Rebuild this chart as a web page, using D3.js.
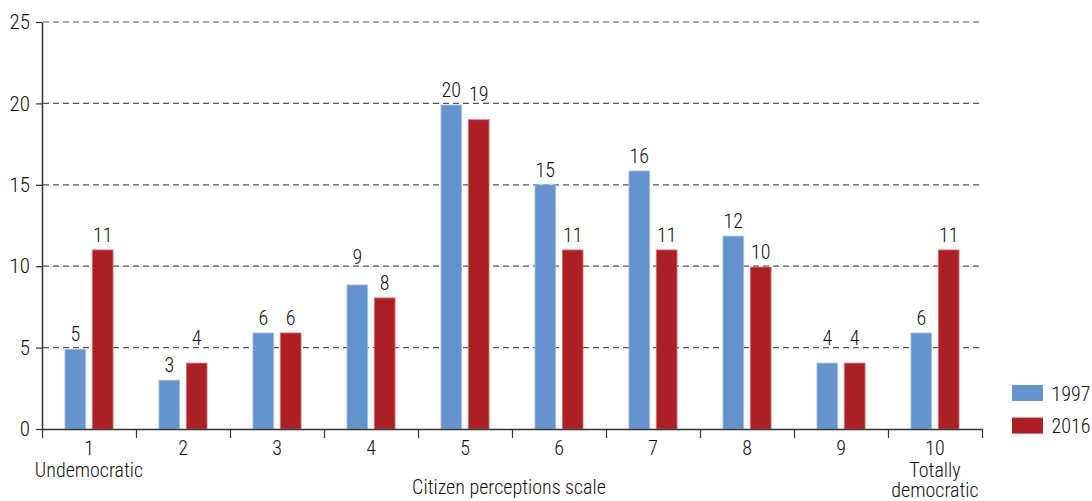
<!DOCTYPE html>
<html>
<head>
<meta charset="utf-8">
<script src="https://cdn.jsdelivr.net/npm/d3@7"></script>
<style>
  html, body { margin: 0; padding: 0; background: #fff; }
  svg { display: block; }
  text { font-family: "Roboto Condensed", "Liberation Sans Narrow", "Arial Narrow", sans-serif; font-weight: 300; fill: #111; }
</style>
</head>
<body>
<svg id="chart" width="1092" height="501"></svg>
<script>
// ---- data ----
const categories = ["1", "2", "3", "4", "5", "6", "7", "8", "9", "10"];
const categoryNotes = ["Undemocratic", "", "", "", "", "", "", "", "", "Totally\ndemocratic"];
const seriesNames = ["1997", "2016"];
const values1997 = [4.9, 3.0, 5.9, 8.85, 19.9, 15.0, 15.85, 11.85, 4.05, 5.9];
const values2016 = [11.0, 4.05, 5.9, 8.05, 19.0, 11.0, 11.0, 9.95, 4.05, 11.0];
const yTicks = [0, 5, 10, 15, 20, 25];
const axisTitle = "Citizen perceptions scale";
const colors = ["#6593cd", "#ab1f25"];
const strokes = ["#a8c3e6", "#d9787c"];

// ---- layout ----
const svg = d3.select("#chart");
const mLeft = 42, mRight = 982, mTop = 22, mBottom = 429;

const x0 = d3.scaleBand().domain(categories).range([mLeft, mRight]).padding(0);
const x1 = d3.scaleBand().domain(seriesNames).range([0, x0.bandwidth()])
  .paddingInner(0.24).paddingOuter(0.84);
const y = d3.scaleLinear().domain([0, 25]).range([mBottom, mTop]);
const xEdge = d3.scaleLinear().domain([0, categories.length]).range([mLeft, mRight]);

const fs = 20;

// gridlines
svg.append("g").selectAll("line")
  .data(yTicks.filter(d => d > 0))
  .join("line")
  .attr("x1", mLeft + 1).attr("x2", mRight)
  .attr("y1", d => y(d)).attr("y2", d => y(d))
  .attr("stroke", "#555").attr("stroke-width", 1.2)
  .attr("stroke-dasharray", "6,4");

// bars
const rows = categories.map((c, i) => ({ cat: c, vals: [values1997[i], values2016[i]] }));
const groups = svg.append("g").selectAll("g")
  .data(rows).join("g")
  .attr("transform", d => `translate(${x0(d.cat)},0)`);

groups.selectAll("rect")
  .data(d => d.vals.map((v, k) => ({ s: seriesNames[k], v, k })))
  .join("rect")
  .attr("x", d => x1(d.s))
  .attr("width", x1.bandwidth())
  .attr("y", d => y(d.v))
  .attr("height", d => mBottom - y(d.v))
  .attr("fill", d => colors[d.k])
  .attr("stroke", d => strokes[d.k])
  .attr("stroke-width", 0.8);

// value labels, nudged above a gridline when they would overlap it
function labelBaseline(v) {
  let b = y(v) - 8;
  for (const t of yTicks) {
    const g = y(t);
    if (g > b - 14 && g < b + 1) b = g - 2.5;
  }
  return b;
}
groups.selectAll("text")
  .data(d => d.vals.map((v, k) => ({ s: seriesNames[k], v, k })))
  .join("text")
  .attr("x", d => x1(d.s) + x1.bandwidth() / 2)
  .attr("y", d => labelBaseline(d.v))
  .attr("text-anchor", "middle")
  .attr("font-size", fs)
  .text(d => d3.format(".0f")(d.v));

// y axis
const yAxis = svg.append("g")
  .attr("transform", `translate(${mLeft},0)`)
  .call(d3.axisLeft(y).tickValues(yTicks).tickSize(6).tickSizeOuter(0).tickPadding(6));
yAxis.select(".domain").attr("stroke", "#333").attr("stroke-width", 1.5);
yAxis.selectAll(".tick line").attr("stroke", "#333").attr("stroke-width", 1.2);
yAxis.selectAll(".tick text").attr("font-size", 21).attr("font-family", null).attr("fill", "#111");

// x axis: edges with ticks
const xAxis = svg.append("g")
  .attr("transform", `translate(0,${mBottom})`)
  .call(d3.axisBottom(xEdge).tickValues(d3.range(categories.length + 1)).tickFormat("").tickSize(9).tickSizeOuter(0));
xAxis.select(".domain").attr("stroke", "#333").attr("stroke-width", 1.5);
xAxis.selectAll(".tick line").attr("stroke", "#333").attr("stroke-width", 1.2);

// category labels
const xLab = svg.append("g")
  .attr("transform", `translate(0,${mBottom})`)
  .call(d3.axisBottom(x0).tickSize(0).tickPadding(12));
xLab.select(".domain").remove();
xLab.selectAll(".tick text").attr("font-size", fs).attr("font-family", null).attr("fill", "#111");

// notes under categories
svg.append("g").selectAll("text")
  .data(categories.map((c, i) => ({ c, note: categoryNotes[i] })).filter(d => d.note))
  .join("text")
  .attr("x", d => x0(d.c) + x0.bandwidth() / 2)
  .attr("y", 477)
  .attr("text-anchor", "middle")
  .attr("font-size", fs)
  .each(function (d) {
    d.note.split("\n").forEach((line, j) => {
      d3.select(this).append("tspan")
        .attr("x", x0(d.c) + x0.bandwidth() / 2)
        .attr("dy", j === 0 ? 0 : 20)
        .text(line);
    });
  });

// axis title
svg.append("text")
  .attr("x", (mLeft + mRight) / 2 - 3)
  .attr("y", 493.5)
  .attr("text-anchor", "middle")
  .attr("font-size", fs)
  .text(axisTitle);

// legend
const legend = svg.append("g").attr("transform", "translate(1012,385)");
seriesNames.forEach((s, k) => {
  const g = legend.append("g").attr("transform", `translate(0,${k * 32.6})`);
  g.append("rect").attr("width", 31).attr("height", 16).attr("fill", colors[k]);
  g.append("text").attr("x", 39.5).attr("y", 15.7).attr("font-size", fs).text(s);
});
</script>
</body>
</html>
